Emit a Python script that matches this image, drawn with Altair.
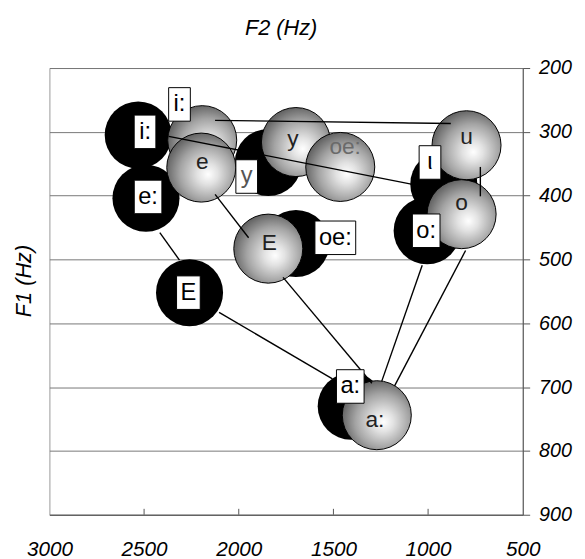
import altair as alt
import pandas as pd

# ---------------- data (Hz) ----------------
black_vowels = ["i:", "e:", "E", "y", "oe:", "ι", "o:", "a:"]
black_f2 = [2531, 2490, 2260, 1844, 1698, 917, 1005, 1406]
black_f1 = [305, 404, 552, 348, 475, 382, 455, 730]
black_label_f2 = [2495, 2479, 2266, 1958, 1490, 990, 1010, 1411]
black_label_f1 = [300, 402, 552, 370, 466, 348, 455, 699]

gray_vowels = ["i:", "y", "oe:", "u", "e", "E", "o", "a:"]
gray_f2 = [2193, 1698, 1464, 797, 2198, 1844, 823, 1271]
gray_f1 = [313, 316, 355, 321, 356, 483, 429, 744]
gray_label_f2 = [2313, 1714, 1438, 797, 2193, 1839, 823, 1281]
gray_label_f1 = [257, 311, 324, 308, 347, 474, 412, 752]

# visible pieces of the connecting lines
seg_f2_start = [2370, 2125, 724, 2417, 2125, 1766, 2104, 1031, 802]
seg_f1_start = [307, 282, 355, 458, 398, 528, 583, 509, 486]
seg_f2_end = [1089, 880, 724, 2313, 1948, 1297, 1505, 1245, 1177]
seg_f1_end = [382, 287, 401, 501, 466, 694, 687, 691, 698]

x_ticks = [3000, 2500, 2000, 1500, 1000, 500]
y_ticks = [200, 300, 400, 500, 600, 700, 800, 900]
x_title = "F2 (Hz)"
y_title = "F1 (Hz)"

# ---------------- styling ----------------
FONT = "Liberation Sans"
W, H = 480, 453

x_scale = alt.Scale(domain=[500, 3000], reverse=True, nice=False, zero=False)
y_scale = alt.Scale(domain=[200, 900], reverse=True, nice=False, zero=False)

x_axis = alt.Axis(values=x_ticks, title=None, grid=False, ticks=False,
                  labelPadding=24, labelFontSize=21, labelFont=FONT,
                  labelFontStyle="italic", labelColor="black",
                  labelFlush=False, labelOverlap=False,
                  domainColor="#555555", format="d")
y_axis = alt.Axis(values=y_ticks, title=None, orient="right", grid=True,
                  gridColor="#777777", tickSize=7, tickColor="#555555",
                  labelPadding=9, labelFontSize=20, labelFont=FONT,
                  labelFontStyle="italic", labelColor="black",
                  labelFlush=False, labelOverlap=False,
                  domainColor="#555555", format="d")


def X(field="f2"):
    return alt.X(f"{field}:Q", scale=x_scale, axis=x_axis)


def Y(field="f1"):
    return alt.Y(f"{field}:Q", scale=y_scale, axis=y_axis)


black_df = pd.DataFrame({"vowel": black_vowels, "f2": black_f2, "f1": black_f1})
gray_df = pd.DataFrame({"vowel": gray_vowels, "f2": gray_f2, "f1": gray_f1})
seg_df = pd.DataFrame({"f2": seg_f2_start, "f1": seg_f1_start,
                       "f2b": seg_f2_end, "f1b": seg_f1_end})
tick_df = pd.DataFrame({"f2": x_ticks[1:-1]})

# label boxes: black set + the boxed gray i:
box_labels = black_vowels + [gray_vowels[0]]
box_f2 = black_label_f2 + [gray_label_f2[0]]
box_f1 = black_label_f1 + [gray_label_f1[0]]
cw = {"i": 0.222, ":": 0.278, "e": 0.556, "E": 0.667, "y": 0.5,
      "o": 0.556, "a": 0.556, "ι": 0.24, "u": 0.556}
BOX_H = 34
shapes = []
for lab in box_labels:
    tw = sum(cw.get(c, 0.5) for c in lab) * 24
    w = max(22, tw + 8)
    k = w / BOX_H
    shapes.append(f"M{-k:.3f},-1H{k:.3f}V1H{-k:.3f}Z")
box_df = pd.DataFrame({"vowel": box_labels, "f2": box_f2, "f1": box_f1,
                       "shape": shapes})

gray_text_df = pd.DataFrame({"vowel": gray_vowels[1:], "f2": gray_label_f2[1:],
                             "f1": gray_label_f1[1:]})

gray_fill = alt.Gradient(
    gradient="radial",
    stops=[alt.GradientStop(offset=0, color="#ffffff"),
           alt.GradientStop(offset=0.25, color="#e2e2e2"),
           alt.GradientStop(offset=0.65, color="#a4a4a4"),
           alt.GradientStop(offset=1, color="#5e5e5e")],
    x1=0.6, y1=0.6, r1=0.0, x2=0.57, y2=0.57, r2=0.6)

ticks = alt.Chart(tick_df).mark_rule(color="#555555", strokeWidth=1).encode(
    x=X(), y=alt.value(H), y2=alt.value(H - 6))

black_pts = alt.Chart(black_df).mark_circle(
    color="black", opacity=1, size=68 * 68).encode(x=X(), y=Y())

gray_pts = alt.Chart(gray_df).mark_circle(
    fill=gray_fill, opacity=1, stroke="black", strokeWidth=1,
    size=70 * 70).encode(x=X(), y=Y())

gray_text = alt.Chart(gray_text_df).mark_text(
    font=FONT, fontSize=23, baseline="middle").encode(
    x=X(), y=Y(), text="vowel:N",
    color=alt.condition(alt.datum.vowel == "oe:", alt.value("#6a6a6a"),
                        alt.value("#222222")))

segs = alt.Chart(seg_df).mark_rule(color="black", strokeWidth=1.4).encode(
    x=X(), y=Y(), x2="f2b:Q", y2="f1b:Q")

boxes = alt.Chart(box_df).mark_point(
    filled=True, fill="white", stroke="black", strokeWidth=1, opacity=1,
    size=BOX_H * BOX_H).encode(
    x=X(), y=Y(), shape=alt.Shape("shape:N", scale=None, legend=None))

box_text = alt.Chart(box_df).mark_text(
    font=FONT, fontSize=24, baseline="middle").encode(
    x=X(), y=Y(), text="vowel:N",
    color=alt.condition(alt.datum.vowel == "y", alt.value("#555555"),
                        alt.value("black")))

title_df = pd.DataFrame({"t": [x_title]})
ytitle_df = pd.DataFrame({"t": [y_title]})
xt = alt.Chart(title_df).mark_text(
    font=FONT, fontSize=22, fontStyle="italic", color="black",
    baseline="middle").encode(x=alt.value(235), y=alt.value(-41), text="t:N")
yt = alt.Chart(ytitle_df).mark_text(
    font=FONT, fontSize=22, fontStyle="italic", color="black", angle=270,
    baseline="middle").encode(x=alt.value(-26), y=alt.value(216), text="t:N")

chart = alt.layer(ticks, black_pts, gray_pts, gray_text, segs, boxes,
                  box_text, xt, yt).properties(
    width=W, height=H,
    padding={"left": 42, "top": 57, "right": 55, "bottom": 41},
    autosize=alt.AutoSizeParams(type="none"),
    background="white",
).configure_view(stroke="#999999", strokeWidth=1)

chart.save("out.html", embed_options={"renderer": "svg", "actions": False})
